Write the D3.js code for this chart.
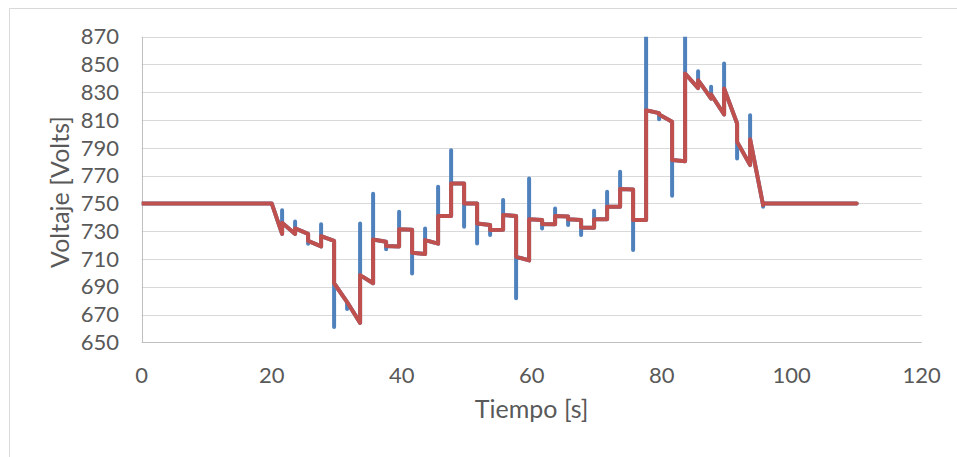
<!DOCTYPE html>
<html>
<head>
<meta charset="utf-8">
<script src="https://cdn.jsdelivr.net/npm/d3@7"></script>
<style>
  body { margin: 0; background: #fff; }
  text { font-family: Lato, sans-serif; fill: #595959; }
</style>
</head>
<body>
<div id="chart"></div>
<script>
// times (s) at which the voltage steps
var stepTimes = [21.6, 23.6, 25.6, 27.6, 29.6, 31.6, 33.6, 35.6, 37.6, 39.6,
  41.6, 43.6, 45.6, 47.6, 49.6, 51.6, 53.6, 55.6, 57.6, 59.6,
  61.6, 63.6, 65.6, 67.6, 69.6, 71.6, 73.6, 75.6, 77.6, 79.6,
  81.6, 83.6, 85.6, 87.6, 89.6, 91.6, 93.6, 95.6]
// red series: value just before and just after each step
var redBefore = [728, 728, 728, 719, 723, 679, 664, 692.5, 722.4, 719,
  731, 713.6, 721, 741, 764.4, 750, 734.4, 731, 741, 709,
  738, 735, 740.5, 738, 732.5, 738.5, 747.6, 760, 738, 815,
  808.7, 780.4, 833, 825.5, 814, 807.5, 777.6, 748.8]
var redAfter = [736, 732, 723, 726.5, 692.5, 679, 698.4, 724, 719.3, 731.3,
  714.5, 723.6, 741, 764.4, 750, 735.6, 730.8, 741.6, 711.6, 738.5,
  735.1, 740.9, 738.5, 732.7, 738.5, 747.6, 760.3, 738, 817, 814,
  781.2, 843.5, 838.7, 828.5, 832.7, 794.3, 796.2, 750]
// blue series: peak of the transient at each step
var blueSpike = [745, 737, 721, 735, 661, 674, 735.6, 757, 717, 744,
  699.6, 732, 762, 788.3, 733.2, 721.2, 727.2, 752.4, 681.7, 768,
  732, 746.4, 734.4, 727.2, 744.7, 758.3, 772.7, 716.4, 885, 810.6,
  755.5, 885, 845.2, 834, 850.7, 782.4, 813.5, 747.6]
var startPts = [[0, 750], [20, 750]]
var endPts = [[110, 750]]
var xTicks = [0, 20, 40, 60, 80, 100, 120]
var yTicks = [650, 670, 690, 710, 730, 750, 770, 790, 810, 830, 850, 870]

var W = 957, H = 457
var x = d3.scaleLinear().domain([0, 120]).range([141.7, 921.7])
var y = d3.scaleLinear().domain([650, 870]).range([342.3, 36.7])

var svg = d3.select('#chart').append('svg')
  .attr('width', W).attr('height', H)

// chart frame (only left and top edges are in view)
svg.append('path')
  .attr('d', 'M9.5,457V8.5H957')
  .attr('fill', 'none').attr('stroke', '#d9d9d9').attr('stroke-width', 1)

svg.append('clipPath').attr('id', 'plot')
  .append('rect')
    .attr('x', x(0)).attr('y', y(870))
    .attr('width', x(120) - x(0)).attr('height', y(650) - y(870))

// gridlines
svg.append('g').selectAll('line')
  .data(yTicks.slice(1))
  .enter().append('line')
    .attr('x1', x(0)).attr('x2', x(120))
    .attr('y1', function(d) { return Math.round(y(d)) + 0.5 })
    .attr('y2', function(d) { return Math.round(y(d)) + 0.5 })
    .attr('stroke', '#d9d9d9').attr('stroke-width', 1)

// axes lines
svg.append('line')
  .attr('x1', Math.round(x(0)) + 0.5).attr('x2', Math.round(x(0)) + 0.5)
  .attr('y1', y(870)).attr('y2', y(650))
  .attr('stroke', '#bfbfbf')
svg.append('line')
  .attr('x1', x(0)).attr('x2', x(120))
  .attr('y1', Math.round(y(650)) + 0.5).attr('y2', Math.round(y(650)) + 0.5)
  .attr('stroke', '#bfbfbf')

// tick labels
svg.append('g').selectAll('text')
  .data(yTicks)
  .enter().append('text')
    .attr('x', 119).attr('y', function(d) { return y(d) })
    .attr('dy', '0.35em').attr('text-anchor', 'end')
    .style('font-size', '22px')
    .text(function(d) { return d })

svg.append('g').selectAll('text')
  .data(xTicks)
  .enter().append('text')
    .attr('x', function(d) { return x(d) }).attr('y', 375)
    .attr('dy', '0.35em').attr('text-anchor', 'middle')
    .style('font-size', '22px')
    .text(function(d) { return d })

// axis titles
svg.append('text')
  .attr('x', (x(0) + x(120)) / 2).attr('y', 409)
  .attr('dy', '0.35em').attr('text-anchor', 'middle')
  .style('font-size', '25px')
  .text('Tiempo [s]')

svg.append('text')
  .attr('transform', 'translate(60,192) rotate(-90)')
  .attr('dy', '0.35em').attr('text-anchor', 'middle')
  .style('font-size', '25px')
  .text('Voltaje [Volts]')

// build the two series from the step tables
var bluePts = startPts.slice(), redPts = startPts.slice()
stepTimes.forEach(function(t, i) {
  redPts.push([t, redBefore[i]], [t, redAfter[i]])
  bluePts.push([t, redBefore[i]], [t, blueSpike[i]], [t, redAfter[i]])
})
bluePts = bluePts.concat(endPts)
redPts = redPts.concat(endPts)

var line = d3.line()
  .x(function(d) { return x(d[0]) })
  .y(function(d) { return y(d[1]) })

var lines = svg.append('g').attr('clip-path', 'url(#plot)')
lines.append('path')
  .attr('d', line(bluePts))
  .attr('fill', 'none').attr('stroke', '#4f81bd').attr('stroke-width', 4)
  .attr('stroke-linejoin', 'round').attr('stroke-linecap', 'round')
lines.append('path')
  .attr('d', line(redPts))
  .attr('fill', 'none').attr('stroke', '#c0504d').attr('stroke-width', 4)
  .attr('stroke-linejoin', 'round').attr('stroke-linecap', 'round')
</script>
</body>
</html>
